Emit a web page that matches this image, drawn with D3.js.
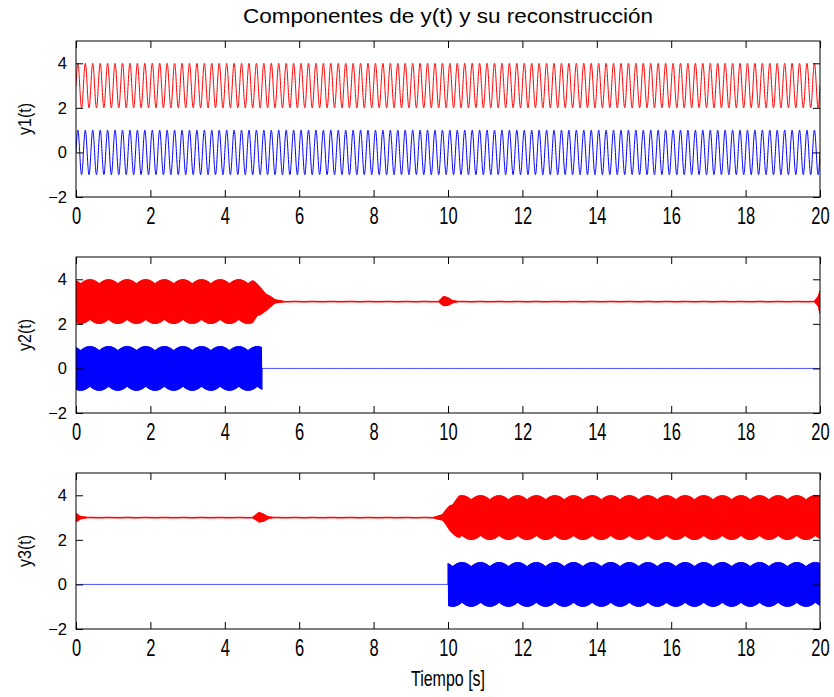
<!DOCTYPE html>
<html>
<head>
<meta charset="utf-8">
<script src="https://cdn.jsdelivr.net/npm/d3@7"></script>
<style>
  html, body { margin: 0; padding: 0; background: #fff; }
  svg { display: block; }
  text { font-family: "Liberation Sans", Arial, sans-serif; fill: #000; }
</style>
</head>
<body>
<svg id="chart" width="834" height="697"></svg>
<script>
// ---- data ---------------------------------------------------------------
const chartTitle = "Componentes de y(t) y su reconstrucción";
const xLabel = "Tiempo [s]";
const panelLabels = ["y1(t)", "y2(t)", "y3(t)"];
const timeDomain = [0, 20];
const valueDomain = [-2, 5];
const xTickValues = [0, 2, 4, 6, 8, 10, 12, 14, 16, 18, 20];
const yTickValues = [-2, 0, 2, 4];

const sampleRate = 252;            // samples per second
const toneHz = [5, 50, 50];        // frequency of each component
const reconOffset = 3;             // reconstructed trace is drawn shifted up

// component amplitude over time: [time, amplitude] breakpoints
const y1SourceEnv = [[0, 1], [20, 1]];
const y2SourceEnv = [[0, 1], [4.999, 1], [5, 0], [20, 0]];
const y3SourceEnv = [[0, 0], [9.999, 0], [10, 1], [20, 1]];

// reconstruction amplitude over time, including the ripple around the edges
const y1ReconEnv = [[0, 1], [20, 1]];
const y2ReconEnv = [[0, 1], [4.75, 1], [5.05, 0.5], [5.35, 0.1], [5.6, 0.03],
                    [9.75, 0.03], [9.88, 0.25], [10.0, 0.2], [10.12, 0.08], [10.25, 0.03],
                    [19.85, 0.03], [19.95, 0.25], [20, 0.6]];
const y3ReconEnv = [[0, 0.22], [0.12, 0.08], [0.3, 0.03], [4.75, 0.03],
                    [4.92, 0.25], [5.05, 0.18], [5.18, 0.06], [5.3, 0.03], [9.6, 0.03],
                    [9.85, 0.15], [10.05, 0.6], [10.3, 1], [20, 1]];

const sourceEnvs = [y1SourceEnv, y2SourceEnv, y3SourceEnv];
const reconEnvs = [y1ReconEnv, y2ReconEnv, y3ReconEnv];

// ---- layout -------------------------------------------------------------
const plotLeft = 76, plotRight = 820;
const panelTops = [41, 257, 473];
const panelHeight = 156;
const textStretch = 1.4;           // tall, narrow lettering for x labels and titles

const svg = d3.select("#chart");

const x = d3.scaleLinear().domain(timeDomain).range([plotLeft, plotRight]);
const times = d3.range(0, sampleRate * timeDomain[1] + 1).map(i => i / sampleRate);

function envelopeScale(points) {
  return d3.scaleLinear()
    .domain(points.map(p => p[0]))
    .range(points.map(p => p[1]))
    .clamp(true);
}

svg.append("text")
  .attr("transform", `translate(${(plotLeft + plotRight) / 2},23) scale(1,1.15)`)
  .attr("text-anchor", "middle")
  .attr("textLength", 410)
  .attr("lengthAdjust", "spacingAndGlyphs")
  .style("font-size", "17px")
  .text(chartTitle);

panelTops.forEach((top, k) => {
  const y = d3.scaleLinear().domain(valueDomain).range([top + panelHeight, top]);
  const g = svg.append("g");

  const clipId = "clip" + k;
  g.append("clipPath").attr("id", clipId)
    .append("rect")
    .attr("x", plotLeft).attr("y", top)
    .attr("width", plotRight - plotLeft).attr("height", panelHeight);

  const srcEnv = envelopeScale(sourceEnvs[k]);
  const recEnv = envelopeScale(reconEnvs[k]);
  const f = toneHz[k];

  const source = times.map(t => [t, srcEnv(t) * Math.sin(2 * Math.PI * f * t)]);
  const recon = times.map(t => [t, reconOffset + recEnv(t) * Math.sin(2 * Math.PI * f * t)]);

  const line = d3.line().x(d => x(d[0])).y(d => y(d[1]));

  const lines = g.append("g").attr("clip-path", `url(#${clipId})`);
  lines.append("path").datum(recon)
    .attr("d", line).attr("fill", "none")
    .attr("stroke", "#ff0000").attr("stroke-width", 1);
  lines.append("path").datum(source)
    .attr("d", line).attr("fill", "none")
    .attr("stroke", "#0000ff").attr("stroke-width", 1);

  // axes with inward ticks on all four sides
  const tick = 7;
  const bottom = g.append("g")
    .attr("transform", `translate(0,${top + panelHeight})`)
    .call(d3.axisBottom(x).tickValues(xTickValues).tickSizeInner(-tick).tickSizeOuter(0).tickFormat(d3.format("d")));
  bottom.selectAll(".tick text")
    .attr("y", null).attr("dy", null)
    .attr("transform", `translate(0,27) scale(1,${textStretch})`);
  g.append("g")
    .attr("transform", `translate(0,${top})`)
    .call(d3.axisTop(x).tickValues(xTickValues).tickSizeInner(-tick).tickSizeOuter(0).tickFormat(""));
  g.append("g")
    .attr("transform", `translate(${plotLeft},0)`)
    .call(d3.axisLeft(y).tickValues(yTickValues).tickSizeInner(-tick).tickSizeOuter(0).tickPadding(9).tickFormat(d3.format("d")));
  g.append("g")
    .attr("transform", `translate(${plotRight},0)`)
    .call(d3.axisRight(y).tickValues(yTickValues).tickSizeInner(-tick).tickSizeOuter(0).tickFormat(""));

  g.selectAll(".domain").remove();
  g.selectAll(".tick line").attr("stroke", "#000");
  g.selectAll(".tick text")
    .style("font-size", "16.5px")
    .style("font-family", "'Liberation Sans', Arial, sans-serif");

  g.append("rect")
    .attr("x", plotLeft).attr("y", top)
    .attr("width", plotRight - plotLeft).attr("height", panelHeight)
    .attr("fill", "none").attr("stroke", "#000").attr("stroke-width", 1);

  g.append("text")
    .attr("transform", `translate(31,${top + panelHeight / 2}) rotate(-90) scale(1,1.15)`)
    .attr("text-anchor", "middle")
    .style("font-size", "16px")
    .text(panelLabels[k]);
});

svg.append("text")
  .attr("transform", `translate(${(plotLeft + plotRight) / 2},686) scale(1,${textStretch})`)
  .attr("text-anchor", "middle")
  .style("font-size", "16px")
  .text(xLabel);
</script>
</body>
</html>
